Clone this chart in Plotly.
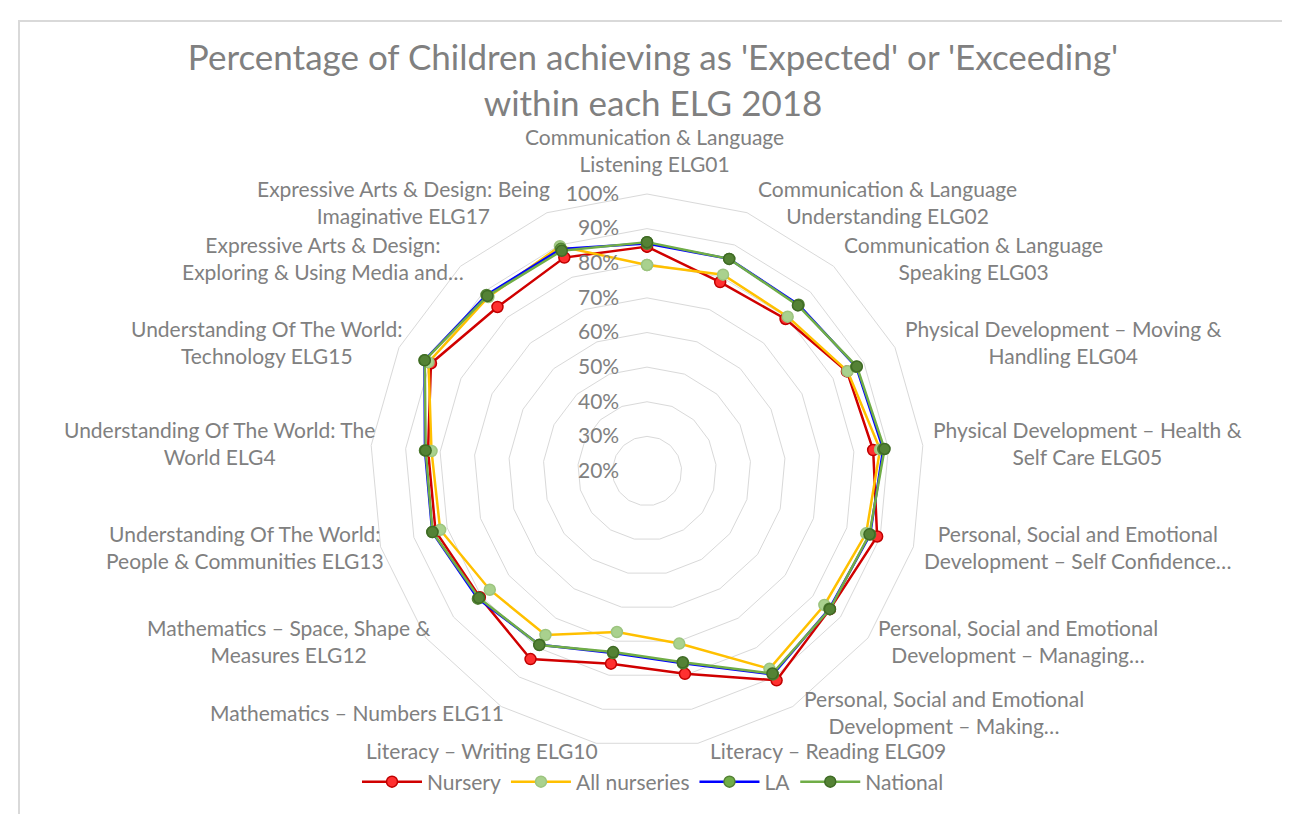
import math
import plotly.graph_objects as go

categories = [
    "Communication & Language<br>Listening ELG01",
    "Communication & Language<br>Understanding ELG02",
    "Communication & Language<br>Speaking ELG03",
    "Physical Development – Moving &<br>Handling ELG04",
    "Physical Development – Health &<br>Self Care ELG05",
    "Personal, Social and Emotional<br>Development – Self Confidence…",
    "Personal, Social and Emotional<br>Development – Managing…",
    "Personal, Social and Emotional<br>Development – Making…",
    "Literacy – Reading ELG09",
    "Literacy – Writing ELG10",
    "Mathematics – Numbers ELG11",
    "Mathematics – Space, Shape &<br>Measures ELG12",
    "Understanding Of The World:<br>People & Communities ELG13",
    "Understanding Of The World: The<br>World ELG4",
    "Understanding Of The World:<br>Technology ELG15",
    "Expressive Arts & Design:<br>Exploring & Using Media and…",
    "Expressive Arts & Design: Being<br>Imaginative ELG17",
]

nursery = [0.848, 0.785, 0.794, 0.845, 0.856, 0.891, 0.862, 0.911, 0.796, 0.766, 0.839, 0.805, 0.835, 0.835, 0.897, 0.841, 0.861]
all_nurseries = [0.795, 0.808, 0.803, 0.847, 0.876, 0.858, 0.842, 0.872, 0.707, 0.673, 0.757, 0.769, 0.821, 0.825, 0.905, 0.880, 0.896]
la = [0.857, 0.857, 0.850, 0.875, 0.885, 0.870, 0.860, 0.891, 0.765, 0.735, 0.790, 0.812, 0.845, 0.844, 0.918, 0.888, 0.888]
national = [0.861, 0.857, 0.847, 0.877, 0.889, 0.868, 0.862, 0.888, 0.762, 0.732, 0.791, 0.808, 0.844, 0.842, 0.917, 0.884, 0.882]

radial_ticks = [0.2, 0.3, 0.4, 0.5, 0.6, 0.7, 0.8, 0.9, 1.0]

series = [
    ("Nursery", nursery, "#D00000", "#FF3030", "#C00000"),
    ("All nurseries", all_nurseries, "#FFC000", "#A9D18E", "#9CC47F"),
    ("LA", la, "#0000FF", "#70AD47", "#548235"),
    ("National", national, "#70AD47", "#548235", "#3F6B25"),
]

FONT = "Lato"
GRAY = "#808080"

fig = go.Figure()
for name, vals, lc, mf, mb in series:
    fig.add_trace(go.Scatterpolar(
        r=vals + [vals[0]],
        theta=categories + [categories[0]],
        mode="lines+markers",
        name=name,
        line=dict(color=lc, width=2.5),
        marker=dict(size=11, color=mf, line=dict(color=mb, width=1.5)),
    ))

W, H = 1290, 814
cx, cy, R = 639, 463, 277          # polar domain box (pixels)
rcx, rcy, rR = 646, 471, 275       # where the polygon is actually drawn

# category labels placed just outside each polygon vertex (Excel-like wrapping/centering)
annotations = []
n = len(categories)
for k, label in enumerate(categories):
    ang = math.radians(90 - k * 360 / n)
    c, s = math.cos(ang), math.sin(ang)
    vx, vy = rcx + rR * c, rcy - rR * s
    if abs(c) < 0.05:
        x, y, xa, ya = vx, vy - 26, "center", "bottom"
    else:
        x = vx + (3 if c > 0 else -3)
        y = vy - 11 * s - 10
        xa, ya = ("left" if c > 0 else "right"), "middle"
    annotations.append(dict(
        text=label, x=x / W, y=1 - y / H, xref="paper", yref="paper",
        xanchor=xa, yanchor=ya, align="center", showarrow=False,
        font=dict(family=FONT, size=21, color=GRAY),
    ))

fig.update_layout(
    width=W, height=H,
    margin=dict(l=0, r=0, t=0, b=0),
    paper_bgcolor="white",
    plot_bgcolor="white",
    font=dict(family=FONT, color=GRAY, size=21),
    title=dict(
        text="Percentage of Children achieving as 'Expected' or 'Exceeding'<br>within each ELG 2018",
        x=0.5, xanchor="center", y=1 - 62 / H, yanchor="top",
        font=dict(family=FONT, size=35, color=GRAY),
    ),
    polar=dict(
        domain=dict(x=[(cx - R) / W, (cx + R) / W], y=[(H - cy - R) / H, (H - cy + R) / H]),
        gridshape="linear",
        bgcolor="white",
        radialaxis=dict(
            range=[0.2, 1.0],
            tickvals=radial_ticks,
            tickformat=".0%",
            angle=90,
            tickangle=90,
            side="counterclockwise",
            showline=False,
            ticks="outside",
            ticklen=20,
            tickcolor="rgba(0,0,0,0)",
            gridcolor="#D9D9D9",
            gridwidth=1,
            tickfont=dict(size=21, color=GRAY, family=FONT),
        ),
        angularaxis=dict(
            direction="clockwise",
            rotation=90,
            showgrid=False,
            showline=True,
            linecolor="#D9D9D9",
            linewidth=1,
            ticks="",
            showticklabels=False,
        ),
    ),
    legend=dict(
        orientation="h",
        x=0.5, xanchor="center",
        y=(H - 774) / H, yanchor="middle",
        font=dict(size=21, color=GRAY, family=FONT),
        bgcolor="rgba(0,0,0,0)",
        itemwidth=60,
    ),
    annotations=annotations,
    shapes=[dict(
        type="rect", xref="paper", yref="paper",
        x0=11 / W, x1=1.05, y0=-0.05, y1=(H - 13) / H,
        line=dict(color="#D9D9D9", width=2),
        layer="below",
    )],
)

fig.write_html("out.html")
